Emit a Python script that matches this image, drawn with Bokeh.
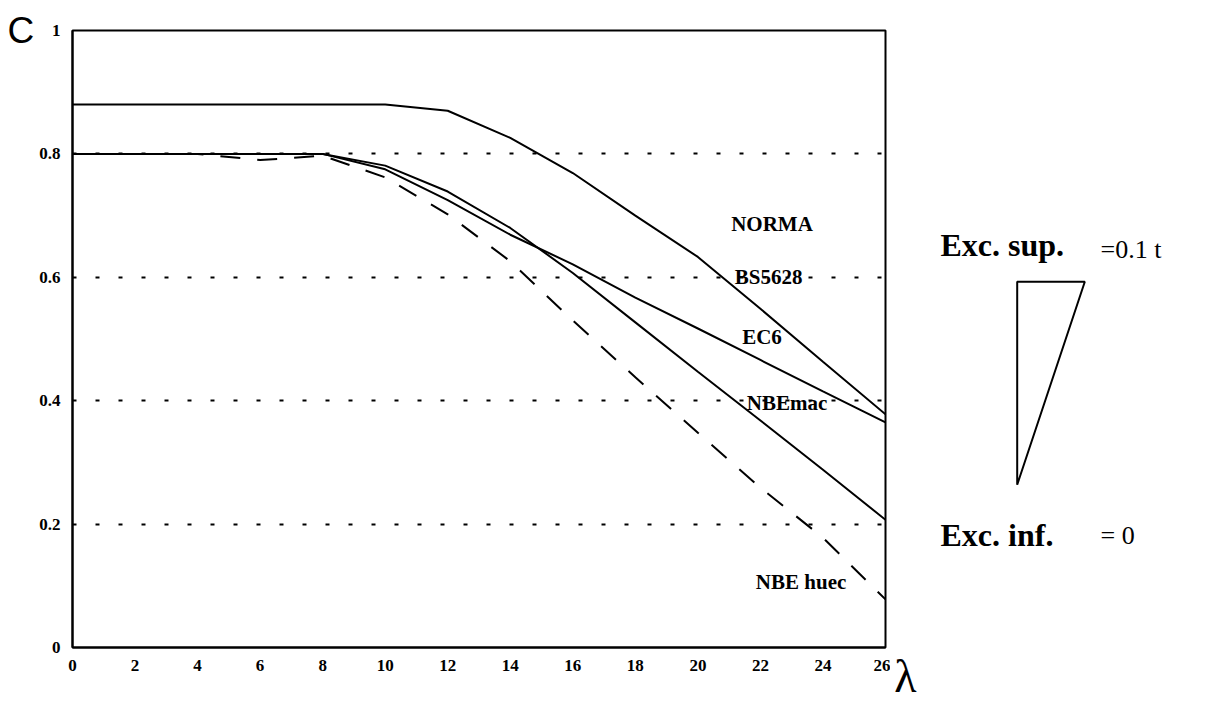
from bokeh.plotting import figure
from bokeh.layouts import row
from bokeh.models import Range1d, FixedTicker, NumeralTickFormatter, ColumnDataSource
from bokeh.core.properties import value
from bokeh.embed import file_html
from bokeh.resources import INLINE

# ---------------- data ----------------
lam = [0, 2, 4, 6, 8, 10, 12, 14, 16, 18, 20, 22, 24, 26]
c_bs5628 = [0.88, 0.88, 0.88, 0.88, 0.88, 0.88, 0.87, 0.826, 0.769, 0.700, 0.633, 0.549, 0.463, 0.378]
c_ec6 = [0.80, 0.80, 0.80, 0.80, 0.80, 0.775, 0.725, 0.669, 0.621, 0.567, 0.517, 0.466, 0.415, 0.365]
c_nbemac = [0.80, 0.80, 0.80, 0.80, 0.80, 0.781, 0.739, 0.680, 0.607, 0.527, 0.447, 0.368, 0.288, 0.207]
c_nbehuec = [0.80, 0.80, 0.80, 0.79, 0.797, 0.762, 0.702, 0.626, 0.530, 0.438, 0.348, 0.259, 0.178, 0.078]

x_ticks = [0, 2, 4, 6, 8, 10, 12, 14, 16, 18, 20, 22, 24, 26]
y_ticks = [0, 0.2, 0.4, 0.6, 0.8, 1]
grid_levels = [0.2, 0.4, 0.6, 0.8]

curve_labels = ["NORMA", "BS5628", "EC6", "NBEmac", "NBE huec"]
curve_label_x = [22.37, 22.26, 22.05, 22.85, 23.30]
curve_label_y = [0.686, 0.600, 0.504, 0.396, 0.106]

# schematic of the eccentricities (right panel, in that panel's pixel units)
tri_x = [126.7, 194.3, 126.7]
tri_y = [281.7, 281.7, 485.0]
exc_labels = ["Exc. sup.", "Exc. inf."]
exc_values = ["=0.1 t", "= 0"]

SERIF = "Liberation Serif"

# ---------------- main chart ----------------
p = figure(width=890, height=704,
           x_range=Range1d(0, 26), y_range=Range1d(0, 1),
           output_backend="svg", toolbar_location=None,
           min_border_left=72, min_border_right=5,
           min_border_top=30, min_border_bottom=56)
p.background_fill_color = "white"
p.border_fill_color = "white"
p.outline_line_color = "black"
p.outline_line_width = 2

p.xgrid.visible = False
p.ygrid.ticker = FixedTicker(ticks=grid_levels)
p.ygrid.grid_line_color = "black"
p.ygrid.grid_line_width = 2
p.ygrid.grid_line_dash = "4 19"

p.xaxis.ticker = FixedTicker(ticks=x_ticks)
p.yaxis.ticker = FixedTicker(ticks=y_ticks)
p.yaxis.formatter = NumeralTickFormatter(format="0.[0]")
for ax in (p.xaxis, p.yaxis):
    ax.axis_line_width = 2
    ax.axis_line_color = "black"
    ax.major_tick_line_color = None
    ax.minor_tick_line_color = None
    ax.major_tick_out = 0
    ax.minor_tick_out = 0
    ax.major_label_text_font = SERIF
    ax.major_label_text_font_style = "bold"
    ax.major_label_text_font_size = "17px"
    ax.major_label_text_color = "black"
p.xaxis.major_label_standoff = 12
p.yaxis.major_label_standoff = 12

# the "C" at the top of the vertical axis
p.yaxis.axis_label = "C"
p.yaxis.axis_label_orientation = "horizontal"
p.yaxis.axis_label_align = "end"
p.yaxis.axis_label_standoff = 2
p.yaxis.axis_label_text_font = "Liberation Sans"
p.yaxis.axis_label_text_font_style = "normal"
p.yaxis.axis_label_text_font_size = "37px"
p.yaxis.axis_label_text_color = "black"

p.line(lam, c_bs5628, line_color="black", line_width=2)
p.line(lam, c_ec6, line_color="black", line_width=2)
p.line(lam, c_nbemac, line_color="black", line_width=2)
p.line(lam, c_nbehuec, line_color="black", line_width=2, line_dash="20 17")

lab_src = ColumnDataSource(dict(x=curve_label_x, y=curve_label_y, t=curve_labels))
p.text(x="x", y="y", text="t", source=lab_src,
       text_font=value(SERIF), text_font_style="bold", text_font_size="21px",
       text_align="center", text_baseline="middle", text_color="black")

# ---------------- right panel ----------------
q = figure(width=317, height=704,
           x_range=Range1d(15, 317), y_range=Range1d(648, 30),
           output_backend="svg", toolbar_location=None,
           x_axis_location="below", y_axis_location=None,
           min_border=0, min_border_left=15)
q.grid.visible = False
q.outline_line_color = None
q.background_fill_color = "white"
q.border_fill_color = "white"

# the lambda symbol of the horizontal axis
q.xaxis.ticker = FixedTicker(ticks=[])
q.xaxis.axis_line_color = None
q.xaxis.major_tick_out = 0
q.xaxis.major_tick_in = 0
q.xaxis.minor_tick_out = 0
q.xaxis.minor_tick_in = 0
q.xaxis.major_label_standoff = 0
q.xaxis.axis_label = "λ"
q.xaxis.axis_label_align = "start"
q.xaxis.axis_label_standoff = 3
q.xaxis.axis_label_text_font = SERIF
q.xaxis.axis_label_text_font_style = "normal"
q.xaxis.axis_label_text_font_size = "46px"
q.xaxis.axis_label_text_color = "black"

q.patch(tri_x, tri_y, fill_color=None, line_color="black", line_width=2)

bold_src = ColumnDataSource(dict(x=[50, 50], y=[245, 535], t=exc_labels))
q.text(x="x", y="y", text="t", source=bold_src, text_font=value(SERIF),
       text_font_style="bold", text_font_size="32px", text_align="left",
       text_baseline="middle", text_color="black")
norm_src = ColumnDataSource(dict(x=[210, 210], y=[249, 536], t=exc_values))
q.text(x="x", y="y", text="t", source=norm_src, text_font=value(SERIF),
       text_font_size="26px", text_align="left",
       text_baseline="middle", text_color="black")

layout = row(p, q)
open("out.html", "w").write(file_html(layout, INLINE))
